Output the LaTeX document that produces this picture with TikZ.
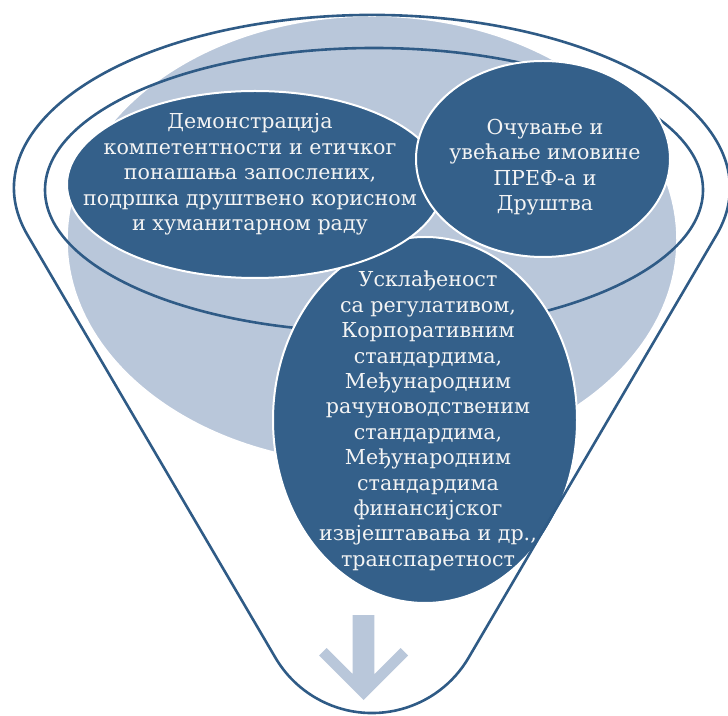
\documentclass[tikz,border=0pt]{standalone}
\usepackage{fontspec}
\setmainfont{DejaVu Serif}
\usetikzlibrary{shapes.geometric}
\definecolor{deep}{HTML}{34608A}
\definecolor{pale}{HTML}{B9C7DA}
\definecolor{rimline}{HTML}{2F5B86}
\definecolor{ink}{HTML}{F4F4F4}
\begin{document}
\begin{tikzpicture}[x=1pt,y=1pt,
  blob/.style={ellipse,fill=deep,draw=white,line width=2,inner sep=0},
  words/.style={text=ink,align=center,inner sep=0,font=\fontsize{20.6}{25.4}\selectfont},
  rim/.style={draw=rimline,line width=2.6}]
  \useasboundingbox (0,0) rectangle (728,715);
  \fill[pale,draw=white,line width=1.5] (372,475) ellipse[x radius=305,y radius=224];
  \draw[rim] (374,525) ellipse[x radius=329,y radius=142];
  \fill[pale] (352.7,100) -- (374.3,100) -- (374.3,40.8) -- (400.5,67) -- (408,59.5)
    -- (363.5,15) -- (319,59.5) -- (326.5,67) -- (352.7,40.8) -- cycle;
  \node[blob,minimum width=304,minimum height=366] (uskl) at (425,295) {};
  \node[blob,minimum width=376,minimum height=187] (demo) at (255,530.5) {};
  \node[blob,minimum width=254,minimum height=196] (ocuv) at (543,556) {};
  \node[words] (demotxt) at (250,540.5) {Демонстрација\\компетентности и етичког\\понашања запослених,\\подршка друштвено корисном\\и хуманитарном раду};
  \node[words] (ocuvtxt) at (545,548) {Очување и\\увећање имовине\\ПРЕФ-а и\\Друштва};
  \node[words] (uskltxt) at (428,294) {Усклађеност\\са регулативом,\\Корпоративним\\стандардима,\\Међународним\\рачуноводственим\\стандардима,\\Међународним\\стандардима\\финансијског\\извјештавања и др.,\\транспаретност};
  \draw[rim] (27.3,480.3) arc[start angle=195.67,end angle=-15.67,x radius=358,y radius=173]
    -- (468.9,57.8) arc[start angle=-30.1,end angle=-149.9,radius=112] -- cycle;
\end{tikzpicture}
\end{document}
